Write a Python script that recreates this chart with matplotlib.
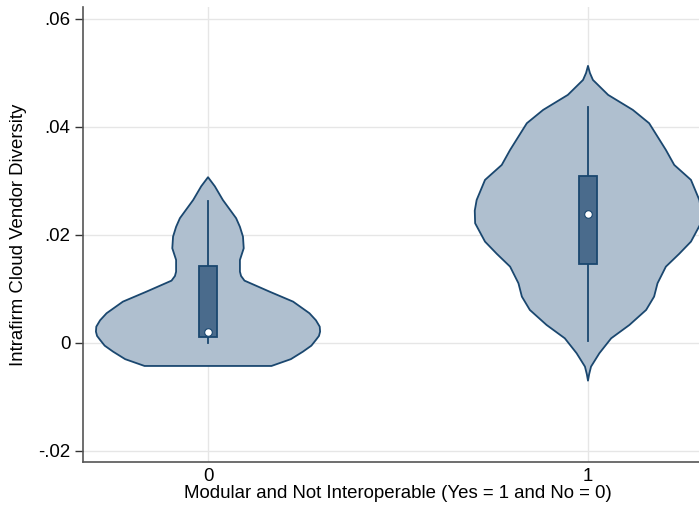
import matplotlib.pyplot as plt
import numpy as np

plt.rcParams['font.family'] = ['Liberation Sans', 'DejaVu Sans']

# group positions and labels
groups = [0, 1]
group_labels = ["0", "1"]

# violin outlines: y level and half-width (in x units)
v0_y = [-0.00426, -0.0030, -0.0016, -0.0005, 0.00056, 0.0013, 0.0021, 0.00302,
        0.0042, 0.0055, 0.00765, 0.0095, 0.01154, 0.0124, 0.0132, 0.01537,
        0.01753, 0.01969, 0.0215, 0.0231, 0.02648, 0.0290, 0.03069]
v0_half = [0.167, 0.218, 0.250, 0.272, 0.284, 0.292, 0.295, 0.294,
           0.284, 0.267, 0.224, 0.162, 0.096, 0.087, 0.084, 0.084,
           0.094, 0.092, 0.084, 0.074, 0.039, 0.018, 0.0]

v1_y = [-0.00698, -0.0058, -0.00438, -0.0019, 0.00086, 0.00333, 0.00611, 0.00858,
        0.01105, 0.01413, 0.0165, 0.01876, 0.02216, 0.0245, 0.02648, 0.03019,
        0.03296, 0.03574, 0.04068, 0.04315, 0.04593, 0.0487, 0.0500, 0.0513]
v1_half = [0.0, 0.003, 0.008, 0.030, 0.061, 0.109, 0.153, 0.174,
           0.183, 0.205, 0.240, 0.271, 0.297, 0.298, 0.293, 0.271,
           0.227, 0.205, 0.161, 0.118, 0.053, 0.013, 0.005, 0.0]

# box summaries
q1 = [0.00117, 0.01463]
q3 = [0.01426, 0.03098]
medians = [0.0021, 0.02394]
whisk_lo = [0.0, 0.00043]
whisk_hi = [0.02635, 0.04376]

fill_col = "#afbfcf"
edge_col = "#1a476f"
box_col = "#4a6b8c"

fig = plt.figure(figsize=(6.99, 5.08), dpi=100)
ax = fig.add_axes([83 / 699, 46 / 508, 630 / 699, 455 / 508])

ax.set_xlim(-0.329, 1.329)
ax.set_ylim(-0.02204, 0.0622)

for g, ys, hs in [(0, v0_y, v0_half), (1, v1_y, v1_half)]:
    ys = np.array(ys)
    hs = np.array(hs)
    xs = np.concatenate([g - hs, (g + hs)[::-1]])
    yy = np.concatenate([ys, ys[::-1]])
    ax.fill(xs, yy, facecolor=fill_col, edgecolor=edge_col, linewidth=1.3,
            zorder=2, joinstyle="round")

bw = 0.023
for i, g in enumerate(groups):
    ax.plot([g, g], [whisk_lo[i], whisk_hi[i]], color=edge_col, lw=1.3, zorder=3)
    ax.add_patch(plt.Rectangle((g - bw, q1[i]), 2 * bw, q3[i] - q1[i],
                               facecolor=box_col, edgecolor=edge_col, lw=1.3, zorder=4))
    ax.scatter([g], [medians[i]], s=30, color="white", edgecolor=edge_col,
               linewidth=0.8, zorder=5)

yticks = [-0.02, 0, 0.02, 0.04, 0.06]
ax.set_yticks(yticks)
ax.set_yticklabels(["-.02", "0", ".02", ".04", ".06"], fontsize=13.4)
ax.set_xticks(groups)
ax.set_xticklabels(group_labels, fontsize=13.4)
ax.tick_params(axis="y", length=6, width=1, color="#333333", pad=3)
ax.tick_params(axis="x", length=0, pad=4)
ax.grid(True, color="#e6e6e6", lw=1, zorder=0)
ax.set_axisbelow(True)

for s in ["top", "right"]:
    ax.spines[s].set_visible(False)
for s in ["left", "bottom"]:
    ax.spines[s].set_color("#555555")
    ax.spines[s].set_linewidth(1.2)

ax.set_ylabel("Intrafirm Cloud Vendor Diversity", fontsize=13.4)
ax.yaxis.set_label_coords((27 - 83) / 630, (508 - 235 - 46) / 455)
ax.set_xlabel("Modular and Not Interoperable (Yes = 1 and No = 0)", fontsize=13.4)
ax.xaxis.set_label_coords((398 - 83) / 630, (508 - 485 - 46) / 455)

fig.savefig("out.png", dpi=100)
